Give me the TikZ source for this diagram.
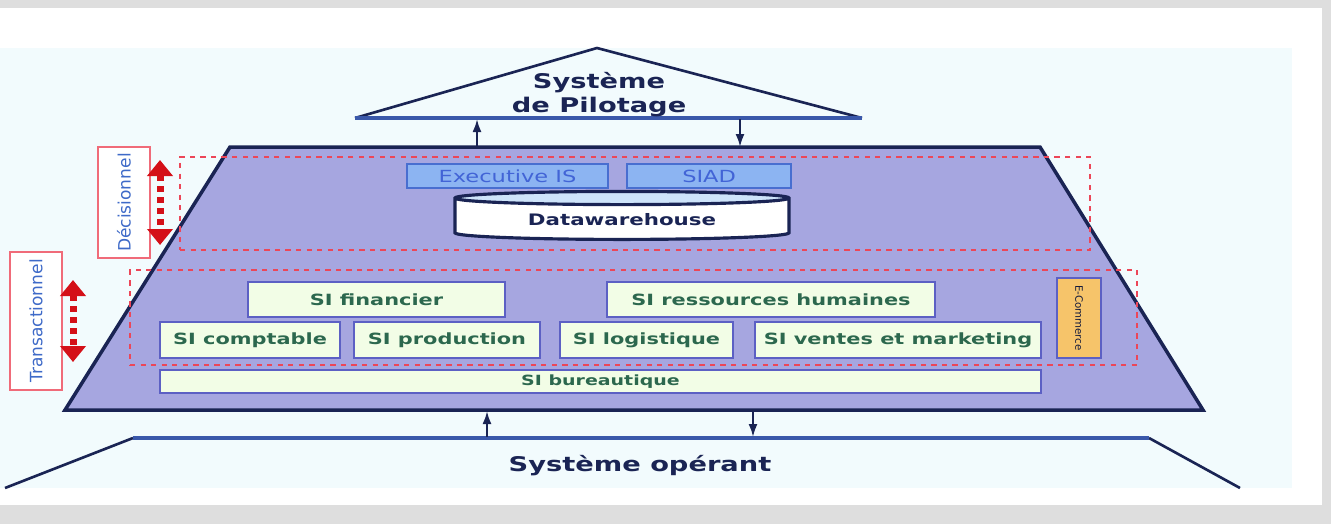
\documentclass[tikz,border=0pt]{standalone}
\usepackage{fontspec}
\setmainfont{DejaVu Sans}
\newfontfamily\widefont[FakeStretch=1.35]{DejaVu Sans}
\usetikzlibrary{shapes.geometric, arrows.meta, positioning}

\definecolor{framegray}{RGB}{222,222,222}
\definecolor{bgpale}{RGB}{242,251,253}
\definecolor{navy}{RGB}{26,36,84}
\definecolor{baseblue}{RGB}{58,88,170}
\definecolor{lavender}{RGB}{166,166,224}
\definecolor{siborder}{RGB}{92,96,196}
\definecolor{sifill}{RGB}{242,253,230}
\definecolor{sitext}{RGB}{44,104,78}
\definecolor{dsfill}{RGB}{140,180,242}
\definecolor{dsborder}{RGB}{72,110,208}
\definecolor{dstext}{RGB}{66,100,214}
\definecolor{cadrered}{RGB}{236,70,88}
\definecolor{arrowred}{RGB}{212,16,24}
\definecolor{labelblue}{RGB}{62,106,200}
\definecolor{ecomfill}{RGB}{246,196,106}
\definecolor{dwhend}{RGB}{206,228,250}

\begin{document}
\begin{tikzpicture}[x=0.2mm, y=-0.2mm,
    title/.style={align=center, text=navy, font=\widefont\bfseries\fontsize{11.5}{13.6}\selectfont},
    sibox/.style={rectangle, draw=siborder, fill=sifill, line width=1.2pt, text=sitext, inner sep=0pt, minimum height=7mm, font=\widefont\bfseries\fontsize{8.8}{10}\selectfont},
    dsbox/.style={rectangle, draw=dsborder, fill=dsfill, line width=1.2pt, text=dstext, inner sep=0pt, minimum height=4.8mm, font=\widefont\fontsize{9.5}{10}\selectfont},
    cadre/.style={rectangle, draw=cadrered, dashed, line width=0.8pt},
    sidelabel/.style={rectangle, draw=cadrered!80, fill=white, line width=0.8pt, rotate=90, text=labelblue, inner sep=0pt, minimum height=10.4mm, font=\fontsize{9.7}{10}\selectfont},
    arrow/.style={-{Latex[length=2.6mm, width=1.8mm]}, navy, line width=1.2pt},
    redarrow/.style={{Triangle[width=5mm, length=3.2mm]}-{Triangle[width=5mm, length=3.2mm]}, arrowred, line width=1.4mm, dash pattern=on 1.2mm off 1mm}
    ]

    % frame of the screenshot
    \fill[framegray] (0,0) rectangle (1331,524);
    \fill[white] (0,8) rectangle (1322,505);
    \fill[bgpale] (0,48) rectangle (1292,488);
    \useasboundingbox (0,0) rectangle (1331,524);

    % Systeme de pilotage
    \coordinate (apex) at (597,48);
    \coordinate (pil-l) at (355,118);
    \coordinate (pil-r) at (862,118);
    \draw[navy, line width=1.5pt, fill=bgpale] (pil-l) -- (apex) -- (pil-r);
    \draw[baseblue, line width=2pt] (pil-l) -- (pil-r);
    \node[title] (pilotage) at (599,95) {Système\\de Pilotage};

    % Systeme d'information
    \coordinate (si-bl) at (65,410);
    \coordinate (si-tl) at (230,147);
    \coordinate (si-tr) at (1040,147);
    \coordinate (si-br) at (1203,410);
    \draw[navy, line width=2pt, fill=lavender] (si-bl) -- (si-tl) -- (si-tr) -- (si-br) -- cycle;

    % Systeme operant
    \coordinate (op-bl) at (5,488);
    \coordinate (op-tl) at (133,438);
    \coordinate (op-tr) at (1149,438);
    \coordinate (op-br) at (1240,488);
    \draw[navy, line width=1.5pt] (op-bl) -- (op-tl);
    \draw[navy, line width=1.5pt] (op-tr) -- (op-br);
    \draw[baseblue, line width=2pt] (op-tl) -- (op-tr);
    \node[title] (operant) at (640,466) {Système opérant};

    % Flows between the levels
    \coordinate (up1-a) at (477,147);
    \coordinate (up1-b) at (477,119);
    \coordinate (dn1-a) at (740,119);
    \coordinate (dn1-b) at (740,147);
    \coordinate (up2-a) at (487,437);
    \coordinate (up2-b) at (487,411);
    \coordinate (dn2-a) at (753,411);
    \coordinate (dn2-b) at (753,437);
    \draw[arrow] (up1-a) -- (up1-b);
    \draw[arrow] (dn1-a) -- (dn1-b);
    \draw[arrow] (up2-a) -- (up2-b);
    \draw[arrow] (dn2-a) -- (dn2-b);

    % Decisionnel
    \node[cadre, minimum width=182mm, minimum height=18.6mm] (decis) at (635,203.5) {};
    \node[dsbox, minimum width=40.2mm] (exec) at (507.5,176) {Executive IS};
    \node[dsbox, minimum width=32.8mm, right=3.4mm of exec] (siad) {SIAD};
    \node[cylinder, shape border rotate=90, aspect=0.07, draw=navy, line width=1.8pt,
        cylinder uses custom fill, cylinder body fill=white, cylinder end fill=dwhend,
        minimum width=66.8mm, minimum height=9.6mm, inner sep=0pt, text=navy,
        font=\widefont\bfseries\fontsize{9}{10}\selectfont] (dwh) at (622,219.5) {Datawarehouse};

    % Transactionnel
    \node[cadre, minimum width=201.4mm, minimum height=19mm] (trans) at (633.5,317.5) {};
    \node[sibox, minimum width=51.4mm] (fin) at (376.5,299.5) {SI financier};
    \node[sibox, minimum width=65.6mm] (rh) at (771,299.5) {SI ressources humaines};
    \node[sibox, minimum width=36mm, minimum height=7.2mm] (compta) at (250,340) {SI comptable};
    \node[sibox, minimum width=37.2mm, minimum height=7.2mm] (prod) at (447,340) {SI production};
    \node[sibox, minimum width=34.6mm, minimum height=7.2mm] (logis) at (646.5,340) {SI logistique};
    \node[sibox, minimum width=57.2mm, minimum height=7.2mm] (ventes) at (898,340) {SI ventes et marketing};
    \node[rectangle, draw=siborder, fill=ecomfill, line width=1.2pt, rotate=-90, inner sep=0pt,
        minimum width=16mm, minimum height=8.8mm, text=navy!70!black,
        font=\fontsize{5.8}{6}\selectfont] (ecom) at (1079,318) {E-Commerce};
    \node[sibox, minimum width=176.2mm, minimum height=4.6mm,
        font=\widefont\bfseries\fontsize{8}{9}\selectfont] (bureau) at (600.5,381.5) {SI bureautique};

    % Side labels
    \node[sidelabel, minimum width=22.2mm] (lab-decis) at (124,202.5) {Décisionnel};
    \node[sidelabel, minimum width=27.6mm] (lab-trans) at (36,321) {Transactionnel};
    \coordinate (rd-top) at (160,160);
    \coordinate (rd-bot) at (160,245);
    \coordinate (rt-top) at (73,280);
    \coordinate (rt-bot) at (73,362);
    \draw[redarrow] (rd-top) -- (rd-bot);
    \draw[redarrow] (rt-top) -- (rt-bot);

\end{tikzpicture}
\end{document}
